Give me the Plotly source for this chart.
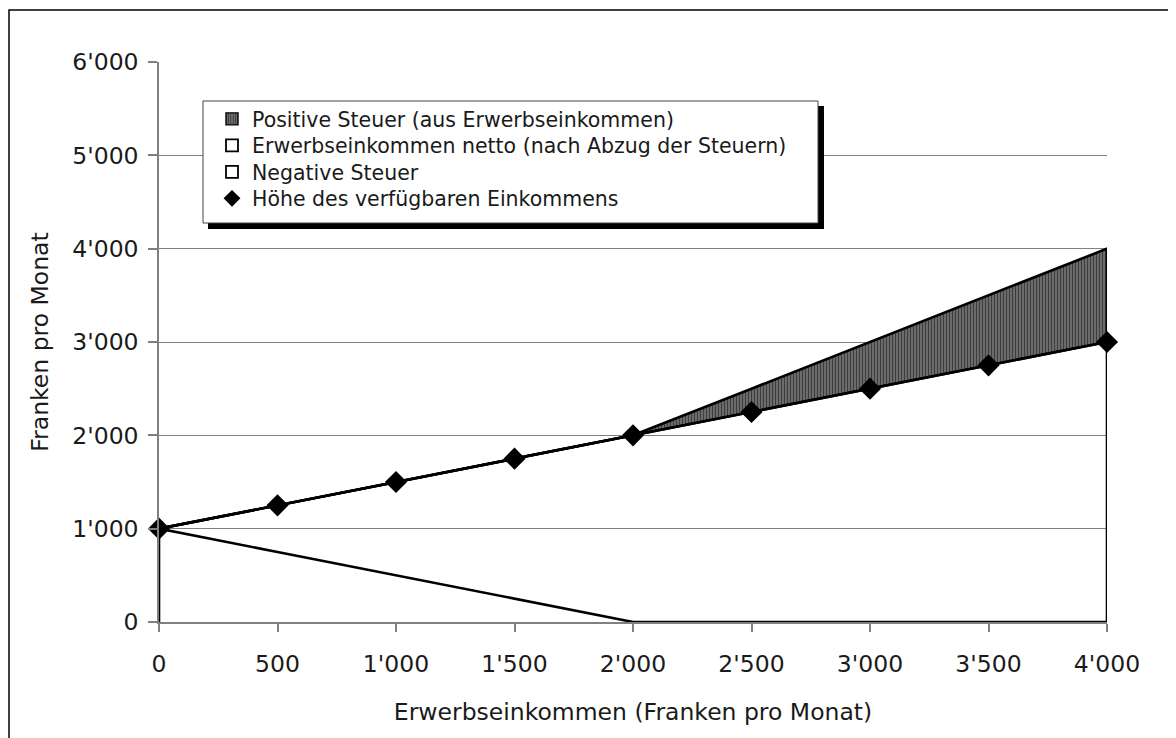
import plotly.graph_objects as go

# ---- data ----
income = [0, 500, 1000, 1500, 2000, 2500, 3000, 3500, 4000]
negative_tax = [1000, 750, 500, 250, 0, 0, 0, 0, 0]
net_earned = [0, 500, 1000, 1500, 2000, 2250, 2500, 2750, 3000]
positive_tax = [0, 0, 0, 0, 0, 250, 500, 750, 1000]
disposable = [1000, 1250, 1500, 1750, 2000, 2250, 2500, 2750, 3000]

x_tick_vals = [0, 500, 1000, 1500, 2000, 2500, 3000, 3500, 4000]
x_tick_text = ["0", "500", "1'000", "1'500", "2'000", "2'500", "3'000", "3'500", "4'000"]
y_tick_vals = [0, 1000, 2000, 3000, 4000, 5000, 6000]
y_tick_text = ["0", "1'000", "2'000", "3'000", "4'000", "5'000", "6'000"]

names = ["Positive Steuer (aus Erwerbseinkommen)",
         "Erwerbseinkommen netto (nach Abzug der Steuern)",
         "Negative Steuer",
         "Höhe des verfügbaren Einkommens"]

FONT = "DejaVu Sans"
OFF = 7  # page offset of the plot div
W, H = 1176 - OFF, 738 - OFF
PL, PR, PT, PB = 158, 1106, 61, 621  # plot area in page pixels
L, R, T, B = PL - OFF, 1176 - PR, PT - OFF, 738 - PB
PW, PH = PR - PL, PB - PT

def px(xp):
    return (xp - PL) / PW

def py(yp):
    return (PB - yp) / PH

HATCH = dict(shape="|", fgcolor="#000000", bgcolor="#7a7a7a", size=3, solidity=0.5)

# stacked levels
level1 = negative_tax
level2 = [a + b for a, b in zip(level1, net_earned)]
level3 = [a + b for a, b in zip(level2, positive_tax)]

fig = go.Figure()

# hatched fill of positive tax
fig.add_trace(go.Scatter(x=income, y=level2, mode="lines", line=dict(width=0, color="rgba(0,0,0,0)"),
                         showlegend=False, hoverinfo="skip"))
fig.add_trace(go.Scatter(x=income, y=level3, mode="lines", line=dict(width=0, color="rgba(0,0,0,0)"),
                         fill="tonexty", fillcolor="#6a6a6a", fillpattern=HATCH,
                         showlegend=False, hoverinfo="skip"))

# outlines of the areas (end verticals + top line)
def outline(base, top):
    xs = [income[0]] + income + [income[-1]]
    ys = [base[0]] + top + [base[-1]]
    return xs, ys

zero = [0] * len(income)
for base, top in [(zero, level1), (level1, level2), (level2, level3)]:
    xs, ys = outline(base, top)
    fig.add_trace(go.Scatter(x=xs, y=ys, mode="lines", line=dict(color="black", width=2.6),
                             showlegend=False, hoverinfo="skip", cliponaxis=False))

# disposable income line with diamonds
fig.add_trace(go.Scatter(x=income, y=disposable, mode="lines+markers",
                         line=dict(color="black", width=2.6),
                         marker=dict(symbol="diamond", size=17, color="black"),
                         showlegend=False, cliponaxis=False))

# legend-only entries (square swatches), each in its own legend for exact row spacing
fig.add_trace(go.Bar(x=[None], y=[None], name=names[0], legend="legend",
                     marker=dict(color="#6a6a6a", pattern=HATCH, line=dict(color="black", width=1.4))))
fig.add_trace(go.Bar(x=[None], y=[None], name=names[1], legend="legend2",
                     marker=dict(color="white", line=dict(color="black", width=1.8))))
fig.add_trace(go.Bar(x=[None], y=[None], name=names[2], legend="legend3",
                     marker=dict(color="white", line=dict(color="black", width=1.8))))
fig.add_trace(go.Scatter(x=[None], y=[None], name=names[3], mode="markers", legend="legend4",
                     marker=dict(symbol="diamond", size=13, color="black")))

shapes = [
    # outer frame
    dict(type="rect", xref="paper", yref="paper", x0=px(8), x1=px(1300), y0=py(900), y1=py(9),
         line=dict(color="black", width=1.5), layer="below"),
    # legend shadow
    dict(type="rect", xref="paper", yref="paper", x0=px(207), x1=px(823), y0=py(228), y1=py(105),
         line=dict(width=0), fillcolor="black", layer="above"),
    # legend box
    dict(type="rect", xref="paper", yref="paper", x0=px(202), x1=px(817), y0=py(222), y1=py(100),
         line=dict(color="#444", width=1), fillcolor="white", layer="above"),
]

row_y = [118, 144.5, 171, 197.5]
LEG_X = 211
def leg(yc):
    return dict(x=px(LEG_X), y=py(yc), xanchor="left", yanchor="middle",
                bgcolor="rgba(0,0,0,0)", borderwidth=0,
                font=dict(family=FONT, size=20.5, color="#1a1a1a"), itemwidth=30)

fig.update_layout(
    width=W, height=H,
    margin=dict(l=L, r=R, t=T, b=B),
    paper_bgcolor="white", plot_bgcolor="white",
    font=dict(family=FONT, size=20, color="#1a1a1a"),
    showlegend=True,
    legend=leg(row_y[0]), legend2=leg(row_y[1]), legend3=leg(row_y[2]), legend4=leg(row_y[3]),
    shapes=shapes,
    xaxis=dict(range=[0, 4000], tickvals=x_tick_vals, ticktext=x_tick_text,
               showgrid=False, zeroline=False, showline=True, linecolor="#808080", linewidth=1.5,
               ticks="outside", ticklen=8, tickcolor="#808080", tickwidth=1.5,
               tickfont=dict(size=23.5), ticklabelstandoff=12,
               title=dict(text="Erwerbseinkommen (Franken pro Monat)", font=dict(size=23.5), standoff=27)),
    yaxis=dict(range=[0, 6000], tickvals=y_tick_vals, ticktext=y_tick_text,
               showgrid=True, gridcolor="#808080", gridwidth=1.2, zeroline=False,
               showline=True, linecolor="#808080", linewidth=1.5,
               ticks="outside", ticklen=9, tickcolor="#808080", tickwidth=1.5,
               tickfont=dict(size=23.5), ticklabelstandoff=5,
               title=dict(text="Franken pro Monat", font=dict(size=23.5), standoff=17)),
)

fig.write_html("out.html")
